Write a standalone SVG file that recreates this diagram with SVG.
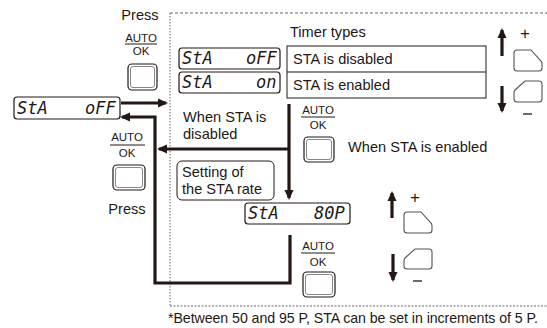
<svg xmlns="http://www.w3.org/2000/svg" width="547" height="328" viewBox="0 0 547 328">
<style>
.t{font-family:"Liberation Sans",Arial,sans-serif;font-size:14.6px;fill:#231815}
.f{font-family:"Liberation Sans",Arial,sans-serif;font-size:14.2px;fill:#231815}
.s{font-family:"Liberation Sans",Arial,sans-serif;font-size:11.5px;fill:#231815}
.p{font-family:"Liberation Sans",Arial,sans-serif;font-size:17px;fill:#231815}
.seg{font-family:"DejaVu Sans Mono",monospace;font-style:italic;font-size:17px;fill:#231815}
.disp{fill:#fff;stroke:#231815;stroke-width:1.2}
.bo{fill:#fff;stroke:#231815;stroke-width:1.2}
.bi{fill:none;stroke:#888;stroke-width:1}
.thick{fill:none;stroke:#231815;stroke-width:3.2}
.key{fill:#fff;stroke:#555;stroke-width:1.1}
.ul{stroke:#231815;stroke-width:1}
</style>
<defs>
<marker id="ah" markerUnits="userSpaceOnUse" markerWidth="10" markerHeight="10" viewBox="0 0 10 10" refX="8" refY="5" orient="auto">
<path d="M0,0.5 L10,5 L0,9.5 Z" fill="#231815"/>
</marker>
</defs>
<rect width="547" height="328" fill="#fff"/>
<g id="frame" fill="none" stroke="#555" stroke-width="0.9">
<line x1="170" y1="13" x2="547" y2="13" stroke-dasharray="3,2"/>
<line x1="170" y1="13" x2="170" y2="306" stroke-dasharray="1.5,1.5"/>
<line x1="170" y1="306" x2="547" y2="306" stroke-dasharray="2,1.5"/>
</g>
<g id="connectors">
<line class="thick" x1="121" y1="103" x2="166" y2="103" marker-end="url(#ah)"/>
<polyline class="thick" points="290,235 290,283 155,283 155,117 122,117" marker-end="url(#ah)"/>
<line class="thick" x1="289" y1="104" x2="289" y2="198" marker-end="url(#ah)"/>
<line class="thick" x1="289" y1="149" x2="159" y2="149" marker-end="url(#ah)"/>
<line class="thick" x1="502" y1="56" x2="502" y2="30" marker-end="url(#ah)"/>
<line class="thick" x1="502" y1="86" x2="502" y2="111" marker-end="url(#ah)"/>
<line class="thick" x1="392" y1="218" x2="392" y2="193" marker-end="url(#ah)"/>
<line class="thick" x1="393" y1="254" x2="393" y2="280" marker-end="url(#ah)"/>
</g>
<g id="press-top">
<text class="t" x="140" y="20" text-anchor="middle">Press</text>
<text class="s" x="141" y="42" text-anchor="middle">AUTO</text>
<line class="ul" x1="125" y1="44" x2="157" y2="44"/>
<text class="s" x="141" y="55" text-anchor="middle">OK</text>
<rect class="bo" x="128" y="64" width="29" height="26" rx="4"/>
<rect class="bi" x="130.5" y="66.5" width="24" height="21" rx="2.5"/>
</g>
<g id="display-main">
<rect class="disp" x="14" y="97" width="106" height="22" rx="3"/>
<text class="seg" x="17" y="114">StA<tspan x="85">oFF</tspan></text>
</g>
<g id="press-left">
<text class="s" x="127" y="141" text-anchor="middle">AUTO</text>
<line class="ul" x1="110" y1="145" x2="145" y2="145"/>
<text class="s" x="127" y="157" text-anchor="middle">OK</text>
<rect class="bo" x="113" y="165" width="32" height="25" rx="4"/>
<rect class="bi" x="115.5" y="167.5" width="27" height="20" rx="2.5"/>
<text class="t" x="127" y="214" text-anchor="middle">Press</text>
</g>
<g id="timer-types">
<text class="t" x="290" y="37">Timer types</text>
<rect x="287" y="46" width="199" height="52" fill="#fff" stroke="#231815" stroke-width="1"/>
<line x1="287" y1="72" x2="486" y2="72" stroke="#231815" stroke-width="1"/>
<text class="t" x="293" y="64">STA is disabled</text>
<text class="t" x="293" y="90">STA is enabled</text>
<rect class="disp" x="179" y="48" width="101" height="21" rx="3"/>
<text class="seg" x="182" y="64">StA<tspan x="246">oFF</tspan></text>
<rect class="disp" x="179" y="72" width="101" height="21" rx="3"/>
<text class="seg" x="182" y="88">StA<tspan x="256">on</tspan></text>
</g>
<g id="keys-top">
<text class="p" x="525" y="39" text-anchor="middle">+</text>
<path class="key" d="M517,50 H531 L541,61 Q542,62 542,64 V68 Q542,71 539,71 H517 Q514,71 514,68 V53 Q514,50 517,50 Z"/>
<path class="key" d="M525,81 H539 Q542,81 542,84 V99 Q542,102 539,102 H517 Q514,102 514,99 V93 Q514,91 515,90 L525,81 Z"/>
<line x1="523" y1="114" x2="532" y2="114" stroke="#231815" stroke-width="1.3"/>
</g>
<g id="disabled-label">
<text class="t" x="183" y="122">When STA is</text>
<text class="t" x="183" y="139">disabled</text>
</g>
<g id="press-mid">
<text class="s" x="318" y="114" text-anchor="middle">AUTO</text>
<line class="ul" x1="301" y1="117" x2="335" y2="117"/>
<text class="s" x="318" y="129" text-anchor="middle">OK</text>
<rect class="bo" x="304" y="137" width="30" height="25" rx="4"/>
<rect class="bi" x="306.5" y="139.5" width="25" height="20" rx="2.5"/>
<text class="t" x="348" y="152">When STA is enabled</text>
</g>
<g id="setting">
<rect x="177" y="161" width="97" height="39" rx="5" fill="#fff" stroke="#231815" stroke-width="1"/>
<text class="t" x="182" y="177">Setting of</text>
<text class="t" x="182" y="194">the STA rate</text>
</g>
<g id="display-rate">
<rect class="disp" x="245" y="203" width="105" height="21" rx="3"/>
<text class="seg" x="248" y="219">StA<tspan x="314">80P</tspan></text>
</g>
<g id="press-bottom">
<text class="s" x="318" y="250" text-anchor="middle">AUTO</text>
<line class="ul" x1="301" y1="253" x2="335" y2="253"/>
<text class="s" x="318" y="266" text-anchor="middle">OK</text>
<rect class="bo" x="303" y="272" width="32" height="25" rx="4"/>
<rect class="bi" x="305.5" y="274.5" width="27" height="20" rx="2.5"/>
</g>
<g id="keys-bottom">
<text class="p" x="415" y="203" text-anchor="middle">+</text>
<path class="key" d="M407,212 H421 L431,223 Q432,224 432,226 V230 Q432,233 429,233 H407 Q404,233 404,230 V215 Q404,212 407,212 Z"/>
<path class="key" d="M415,249 H429 Q432,249 432,252 V266 Q432,269 429,269 H407 Q404,269 404,266 V261 Q404,259 405,258 L415,249 Z"/>
<line x1="413" y1="281" x2="422" y2="281" stroke="#231815" stroke-width="1.3"/>
</g>
<g id="footnote">
<text class="f" x="168" y="323" textLength="370" lengthAdjust="spacing">*Between 50 and 95 P, STA can be set in increments of 5 P.</text>
</g>
</svg>
